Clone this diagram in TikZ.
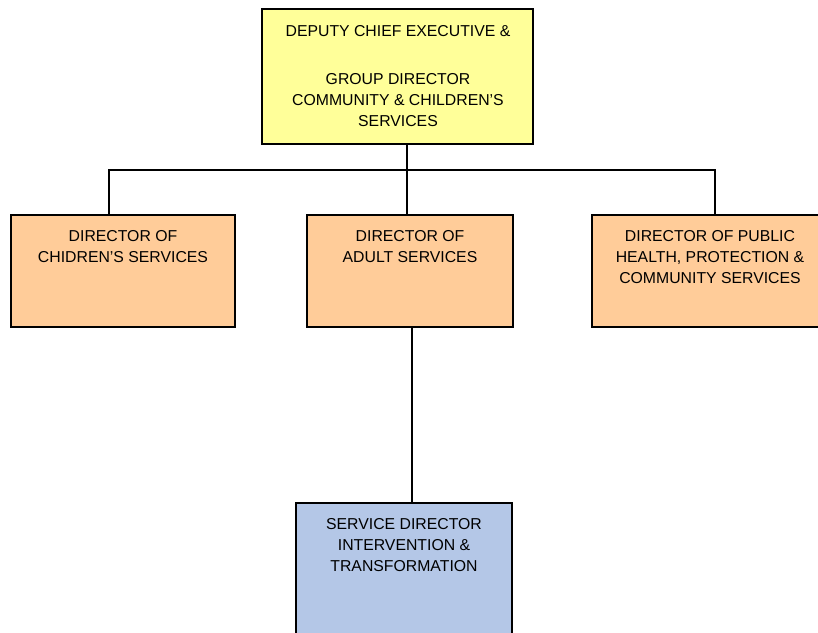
\documentclass[tikz,border=0pt]{standalone}
\usepackage{fontspec}
\setmainfont{Liberation Sans}
\definecolor{boxyellow}{HTML}{FFFF99}
\definecolor{boxorange}{HTML}{FFCC99}
\definecolor{boxblue}{HTML}{B4C7E7}
\tikzset{
  orgbox/.style={draw=black, line width=1.5bp, anchor=north west, inner sep=0pt, outer sep=0pt},
  orgtext/.style={anchor=north, align=center, inner sep=0pt, font=\fontsize{15.8bp}{21bp}\selectfont},
  conn/.style={draw=black, line width=2bp}
}
\begin{document}
\begin{tikzpicture}[x=1bp,y=-1bp]
\useasboundingbox (0,0) rectangle (818,633);
\clip (0,0) rectangle (818,633);
\fill[white] (0,0) rectangle (818,633);
% boxes
\node[orgbox, fill=boxyellow, minimum width=271bp, minimum height=135bp] (dce) at (262,9) {};
\node[orgbox, fill=boxorange, minimum width=224bp, minimum height=112bp] (cds) at (11,215) {};
\node[orgbox, fill=boxorange, minimum width=206bp, minimum height=112bp] (ads) at (307,215) {};
\node[orgbox, fill=boxorange, minimum width=236bp, minimum height=112bp] (phs) at (592,215) {};
\node[orgbox, fill=boxblue, minimum width=216bp, minimum height=160bp] (sdi) at (296,503) {};
% texts
\node[orgtext] (dce-t) at (398,25) {DEPUTY CHIEF EXECUTIVE \&\\[27bp]GROUP DIRECTOR\\COMMUNITY \& CHILDREN’S\\SERVICES};
\node[orgtext] (cds-t) at (123,230) {DIRECTOR OF\\CHIDREN’S SERVICES};
\node[orgtext] (ads-t) at (410,230) {DIRECTOR OF\\ADULT SERVICES};
\node[orgtext] (phs-t) at (710,230) {DIRECTOR OF PUBLIC\\HEALTH, PROTECTION \&\\COMMUNITY SERVICES};
\node[orgtext] (sdi-t) at (404,518) {SERVICE DIRECTOR\\INTERVENTION \&\\TRANSFORMATION};
% connectors
\coordinate (busL) at (109,170);
\coordinate (busM) at (407,170);
\coordinate (busR) at (715,170);
\coordinate (vm) at (412,400);
\draw[conn] (cds.north -| busL) -- (busL) -- (busR) -- (phs.north -| busR);
\draw[conn] (dce.south -| busM) -- (ads.north -| busM);
\draw[conn] (ads.south -| vm) -- (sdi.north -| vm);
\end{tikzpicture}
\end{document}
